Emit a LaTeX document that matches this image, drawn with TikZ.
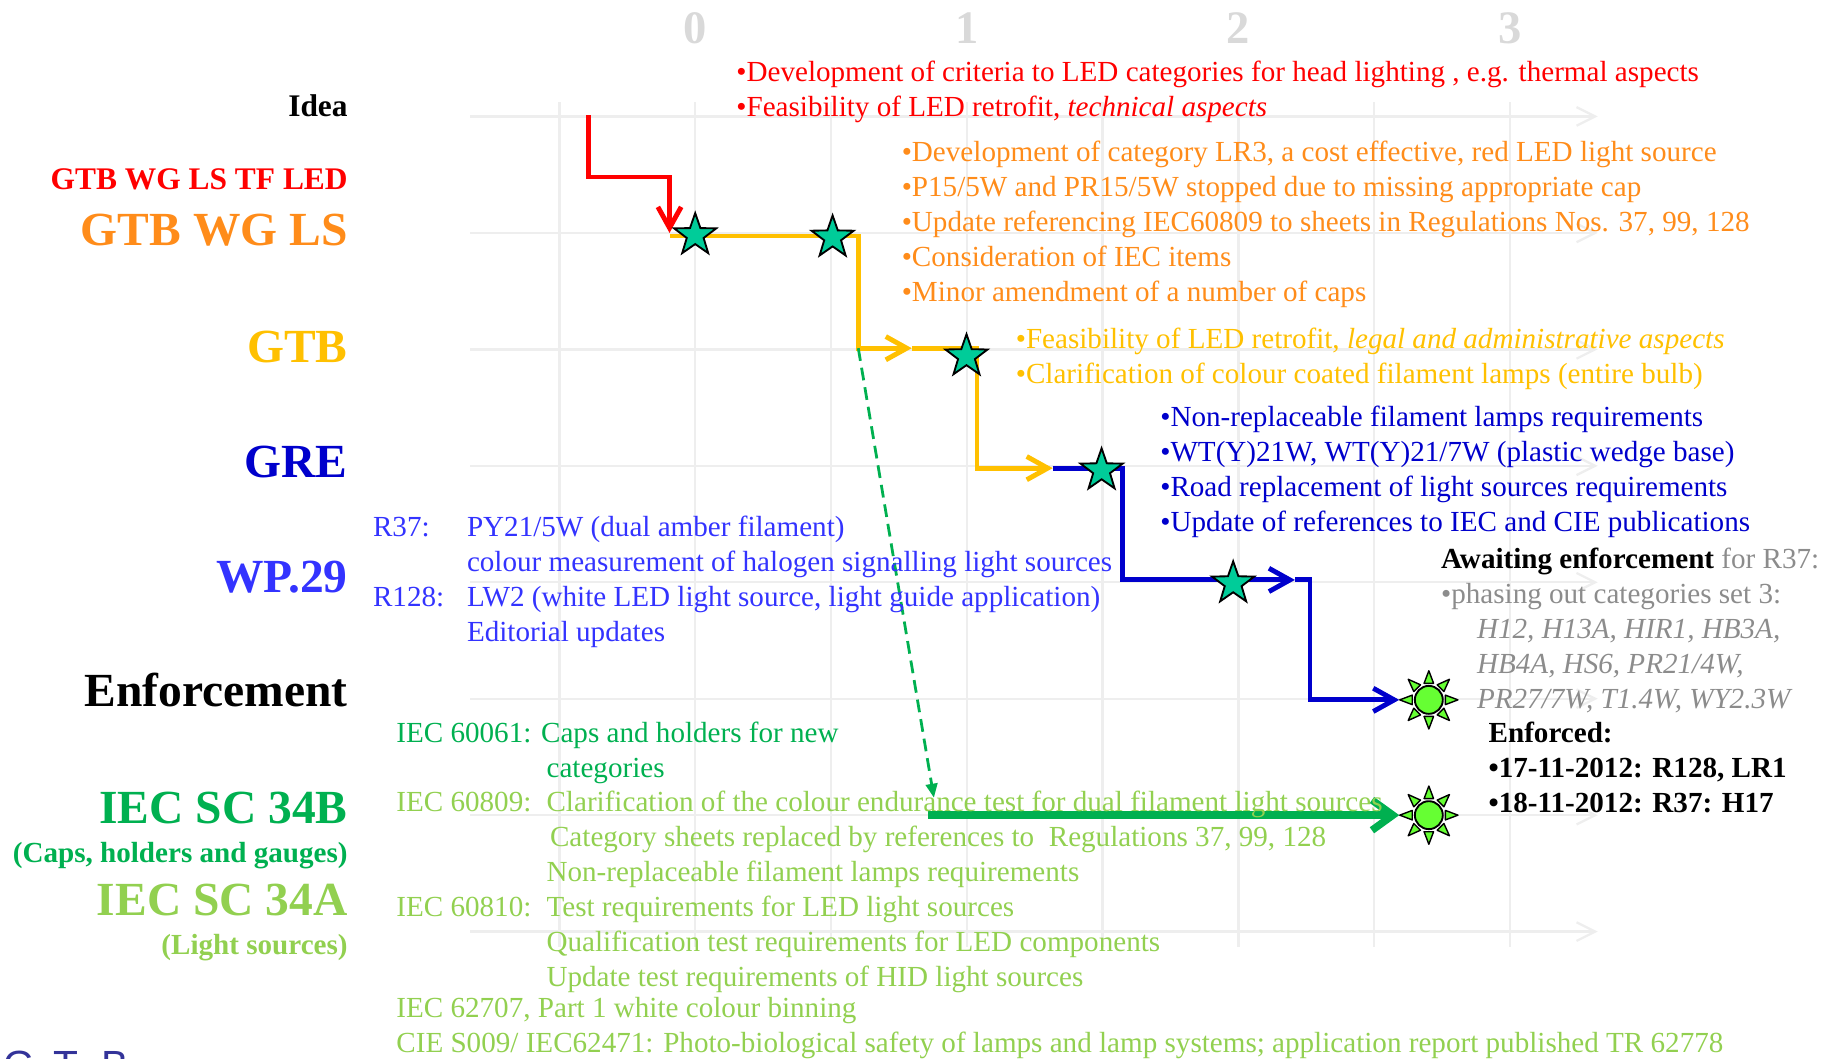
\documentclass[tikz,border=0pt]{standalone}
\usepackage{fontspec}
\setmainfont{Liberation Serif}
\setsansfont{Liberation Sans}
\usetikzlibrary{arrows.meta,shapes.geometric}

\definecolor{tfred}{HTML}{FF0000}
\definecolor{wgorange}{HTML}{FF8C1A}
\definecolor{gtbyellow}{HTML}{FFC000}
\definecolor{greblue}{HTML}{0000CC}
\definecolor{wpblue}{HTML}{3333FF}
\definecolor{scbgreen}{HTML}{00B050}
\definecolor{scagreen}{HTML}{92D050}
\definecolor{starteal}{HTML}{00CC99}
\definecolor{sungreen}{HTML}{66FF33}
\definecolor{waitgray}{HTML}{8C8C8C}
\definecolor{gridgray}{HTML}{EEEEEE}
\definecolor{yeargray}{HTML}{D9D9D9}
\definecolor{logoblue}{HTML}{333399}

\begin{document}
\begin{tikzpicture}[x=58.3pt, y=50pt,
    rowlabel/.style={anchor=base east, inner sep=0pt, font=\fontsize{20.4}{24}\selectfont\bfseries},
    sublabel/.style={anchor=base east, inner sep=0pt, font=\fontsize{13.5}{16}\selectfont\bfseries},
    notelabel/.style={anchor=base east, inner sep=0pt, font=\fontsize{12.5}{15}\selectfont\bfseries},
    itemtext/.style={anchor=base west, inner sep=0pt, align=left, font=\fontsize{12.5}{15}\selectfont},
    gridline/.style={draw=gridgray, line width=1pt},
    flow/.style={line width=2.1pt},
    barb/.style={-{Straight Barb[length=9pt,width=10pt]}},
    milestone/.style={star, star points=5, star point ratio=2.5, minimum size=19pt, inner sep=0pt, fill=starteal, draw=black, line width=0.8pt},
    sun/.style={circle, minimum size=25pt, inner sep=0pt},
    suncore/.style={circle, minimum size=12pt, inner sep=0pt, fill=sungreen, draw=black, line width=0.8pt},
    sunray/.style={fill=sungreen, draw=black, line width=0.6pt, line join=round}]
    \useasboundingbox (-5.120,1.0) rectangle (8.328,-8.09);

    % Grid
    \foreach \r in {0,...,7}
    {
        \draw[gridline, -{Straight Barb[length=8pt,width=8pt]}] (-1.655,-\r) -- (6.647,-\r);
    }
    \foreach \c in {-1,...,6}
    {
        \draw[gridline] (\c,0.124) -- (\c,-7.13);
    }
    % Years
    \foreach \n in {0,...,3}
    {
        \node[font=\fontsize{20}{24}\selectfont\bfseries, text=yeargray] (year\n) at (2*\n,0.76) {\n};
    }

    % Row labels
    \node[sublabel] (idea) at (-2.556,0) {Idea};
    \node[sublabel, text=tfred] (tfled) at (-2.556,-0.626) {GTB WG LS TF LED};
    \node[rowlabel, text=wgorange] (wgls) at (-2.556,-1.11) {GTB WG LS};
    \node[rowlabel, text=gtbyellow] (gtb) at (-2.556,-2.11) {GTB};
    \node[rowlabel, text=greblue] (gre) at (-2.556,-3.10) {GRE};
    \node[rowlabel, text=wpblue] (wp29) at (-2.556,-4.09) {WP.29};
    \node[rowlabel] (enforce) at (-2.556,-5.07) {Enforcement};
    \node[rowlabel, text=scbgreen] (scb) at (-2.556,-6.07) {IEC SC 34B};
    \node[notelabel, text=scbgreen] (scbnote) at (-2.556,-6.41) {(Caps, holders and gauges)};
    \node[rowlabel, text=scagreen] (sca) at (-2.556,-6.86) {IEC SC 34A};
    \node[notelabel, text=scagreen] (scanote) at (-2.556,-7.20) {(Light sources)};
    \node[anchor=base west, inner sep=0pt, font=\fontsize{17.5}{20}\sffamily, text=logoblue] (logo) at (-5.098,-8.27) {G\hskip8pt T\hskip10pt B};

    % Flow corners
    \coordinate (r0) at (-0.789,0.01);
    \coordinate (r1) at (-0.789,-0.52);
    \coordinate (r2) at (-0.189,-0.52);
    \coordinate (r3) at (-0.189,-1.0);
    \coordinate (y0) at (-0.189,-1.027);
    \coordinate (y1) at (1.201,-1.027);
    \coordinate (y2) at (1.201,-1.99);
    \coordinate (y3) at (1.595,-1.99);
    \coordinate (y4) at (2.075,-1.99);
    \coordinate (y5) at (2.075,-3.02);
    \coordinate (y6) at (2.633,-3.02);
    \coordinate (b1) at (3.148,-3.02);
    \coordinate (b2) at (3.148,-3.98);
    \coordinate (b3) at (4.417,-3.98);
    \coordinate (b4) at (4.528,-3.98);
    \coordinate (b5) at (4.528,-5.01);
    \coordinate (g0) at (1.758,-5.85);
    \coordinate (g1) at (1.715,-6.0);
    \node[sun] (sun1) at (5.403,-5.01) {};
    \node[sun] (sun2) at (5.403,-6.0) {};

    % Flows
    \draw[flow, tfred, barb] (r0) -- (r1) -- (r2) -- (r3);
    \draw[flow, gtbyellow, barb] (y0) -- (y1) -- (y2) -- (y3);
    \draw[flow, gtbyellow, barb] (y3) -- (y4) -- (y5) -- (y6);
    \draw[flow, greblue, barb] (y6) -- (b1) -- (b2) -- (b3);
    \draw[flow, greblue, barb] (b3) -- (b4) -- (b5) -- (sun1);
    \draw[scbgreen, line width=1.2pt, dash pattern=on 5.5pt off 3pt, -{Triangle[length=6pt,width=5pt]}] (y2) -- (g0);
    \draw[scbgreen, line width=3.2pt, -{Straight Barb[length=9pt,width=13pt]}] (g1) -- (sun2);

    % Milestones
    \node[milestone] (ms1) at (0,-1.02) {};
    \node[milestone] (ms2) at (1.012,-1.04) {};
    \node[milestone] (ms3) at (1.998,-2.06) {};
    \node[milestone] (ms4) at (2.993,-3.04) {};
    \node[milestone] (ms5) at (3.962,-4.01) {};
    % Suns
    \foreach \s in {sun1,sun2}
    {
        \foreach \a in {0,45,...,315}
            \filldraw[sunray] ([shift={(\a:12.5pt)}]\s.center) -- ([shift={(\a+16:7.4pt)}]\s.center) -- ([shift={(\a-16:7.4pt)}]\s.center) -- cycle;
        \node[suncore] (core-\s) at (\s) {};
    }

    % Items (anchored at the baseline of the last line)
    \node[itemtext, text=tfred] (ledtask) at (0.30,0.0)
        {•Development of criteria to LED categories for head lighting , e.g. thermal aspects\\
         •Feasibility of LED retrofit, \textit{technical aspects}};
    \node[itemtext, text=wgorange] (wgtask) at (1.518,-1.59)
        {•Development of category LR3, a cost effective, red LED light source\\
         •P15/5W and PR15/5W stopped due to missing appropriate cap\\
         •Update referencing IEC60809 to sheets in Regulations Nos. 37, 99, 128\\
         •Consideration of IEC items\\
         •Minor amendment of a number of caps};
    \node[itemtext, text=gtbyellow] (gtbtask) at (2.358,-2.29)
        {•Feasibility of LED retrofit, \textit{legal and administrative aspects}\\
         •Clarification of colour coated filament lamps (entire bulb)};
    \node[itemtext, text=greblue] (gretask) at (3.422,-3.565)
        {•Non-replaceable filament lamps requirements\\
         •WT(Y)21W, WT(Y)21/7W (plastic wedge base)\\
         •Road replacement of light sources requirements\\
         •Update of references to IEC and CIE publications};
    \node[itemtext, text=wpblue] (r37) at (-2.376,-3.61) {R37:};
    \node[itemtext, text=wpblue] (r128) at (-2.376,-4.21) {R128:};
    \node[itemtext, text=wpblue] (wptask) at (-1.684,-4.51)
        {PY21/5W (dual amber filament)\\
         colour measurement of halogen signalling light sources\\
         LW2 (white LED light source, light guide application)\\
         Editorial updates};
    \node[itemtext, text=waitgray] (waiting) at (5.49,-4.18)
        {{\color{black}\bfseries Awaiting enforcement} for R37:\\
         •phasing out categories set 3:};
    \node[itemtext, text=waitgray, font=\fontsize{12.5}{15}\selectfont\itshape] (phaseout) at (5.755,-5.08)
        {H12, H13A, HIR1, HB3A,\\
         HB4A, HS6, PR21/4W,\\
         PR27/7W, T1.4W, WY2.3W};
    \node[itemtext, font=\fontsize{12.5}{15}\selectfont\bfseries] (enforced) at (5.84,-5.98)
        {Enforced:\\
         •17-11-2012: R128, LR1\\
         •18-11-2012: R37: H17};
    \node[itemtext, text=scbgreen] (iec61) at (-2.204,-5.38) {IEC 60061: Caps and holders for new};
    \node[itemtext, text=scbgreen] (iec61cat) at (-1.098,-5.68) {categories};
    \node[itemtext, text=scagreen] (iec809key) at (-2.204,-5.97) {IEC 60809:};
    \node[itemtext, text=scagreen] (iec810key) at (-2.204,-6.87) {IEC 60810:};
    \node[itemtext, text=scagreen] (iectask) at (-1.098,-7.47)
        {Clarification of the colour endurance test for dual filament light sources\\
         \hspace*{1.5pt}Category sheets replaced by references to\ \ Regulations 37, 99, 128\\
         Non-replaceable filament lamps requirements\\
         Test requirements for LED light sources\\
         Qualification test requirements for LED components\\
         Update test requirements of HID light sources};
    \node[itemtext, text=scagreen] (ciework) at (-2.204,-8.04)
        {IEC 62707, Part 1 white colour binning\\
         CIE S009/ IEC62471: Photo-biological safety of lamps and lamp systems; application report published TR 62778};
\end{tikzpicture}
\end{document}
